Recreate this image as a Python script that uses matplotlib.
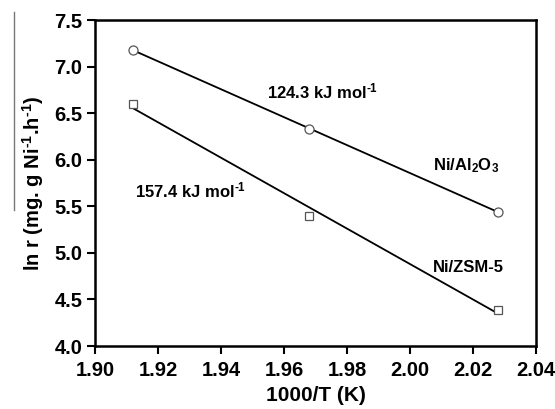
import numpy as np
import matplotlib.pyplot as plt
from matplotlib.lines import Line2D

plt.rcParams['font.family'] = ['Liberation Sans', 'DejaVu Sans']
plt.rcParams['font.weight'] = 'bold'
plt.rcParams['mathtext.fontset'] = 'custom'
plt.rcParams['mathtext.rm'] = 'Liberation Sans:bold'
plt.rcParams['mathtext.default'] = 'rm'

inv_T = [1.912, 1.968, 2.028]
ln_r_al2o3 = [7.18, 6.33, 5.44]
ln_r_zsm5 = [6.60, 5.40, 4.39]

fig = plt.figure(figsize=(5.55, 4.09), dpi=100)
ax = fig.add_axes([95/555, 1 - 346/409, (536-95)/555, (346-20)/409])

for y, mk in [(ln_r_al2o3, 'o'), (ln_r_zsm5, 's')]:
    x = np.array(inv_T)
    p = np.polyfit(x, y, 1)
    ax.plot(x, np.polyval(p, x), color='black', lw=1.3, zorder=2)
    ax.plot(x, y, mk, ms=6.5 if mk == 'o' else 5.5, mfc='white', mec='#555555', mew=0.9, zorder=3)

ax.set_xlim(1.90, 2.04)
ax.set_ylim(4.0, 7.5)
ax.set_xticks(np.arange(1.90, 2.041, 0.02))
ax.set_yticks(np.arange(4.0, 7.51, 0.5))
ax.xaxis.set_major_formatter(plt.FormatStrFormatter('%.2f'))
ax.yaxis.set_major_formatter(plt.FormatStrFormatter('%.1f'))
ax.tick_params(direction='out', length=6, width=1.5, labelsize=14.5, pad=3)
ax.tick_params(axis='x', pad=5)
for s in ax.spines.values():
    s.set_linewidth(1.8)

sup = '$^{\\text{-}1}$'
ax.set_xlabel('1000/T (K)', fontsize=15, fontweight='bold', labelpad=4)
ax.set_ylabel('ln r (mg. g Ni' + sup + '.h' + sup + ')', fontsize=14.5, fontweight='bold', labelpad=6)

ax.text(1.9546, 6.66, '124.3 kJ mol' + sup, fontsize=12)
ax.text(1.9127, 5.60, '157.4 kJ mol' + sup, fontsize=12)
ax.text(2.0073, 5.89, 'Ni/Al$_2$O$_3$', fontsize=12)
ax.text(2.0073, 4.79, 'Ni/ZSM-5', fontsize=12)

fig.add_artist(Line2D([14/555, 14/555], [1 - 12/409, 1 - 210/409], color='#777777', lw=1))

fig.savefig('out.png', dpi=100)
